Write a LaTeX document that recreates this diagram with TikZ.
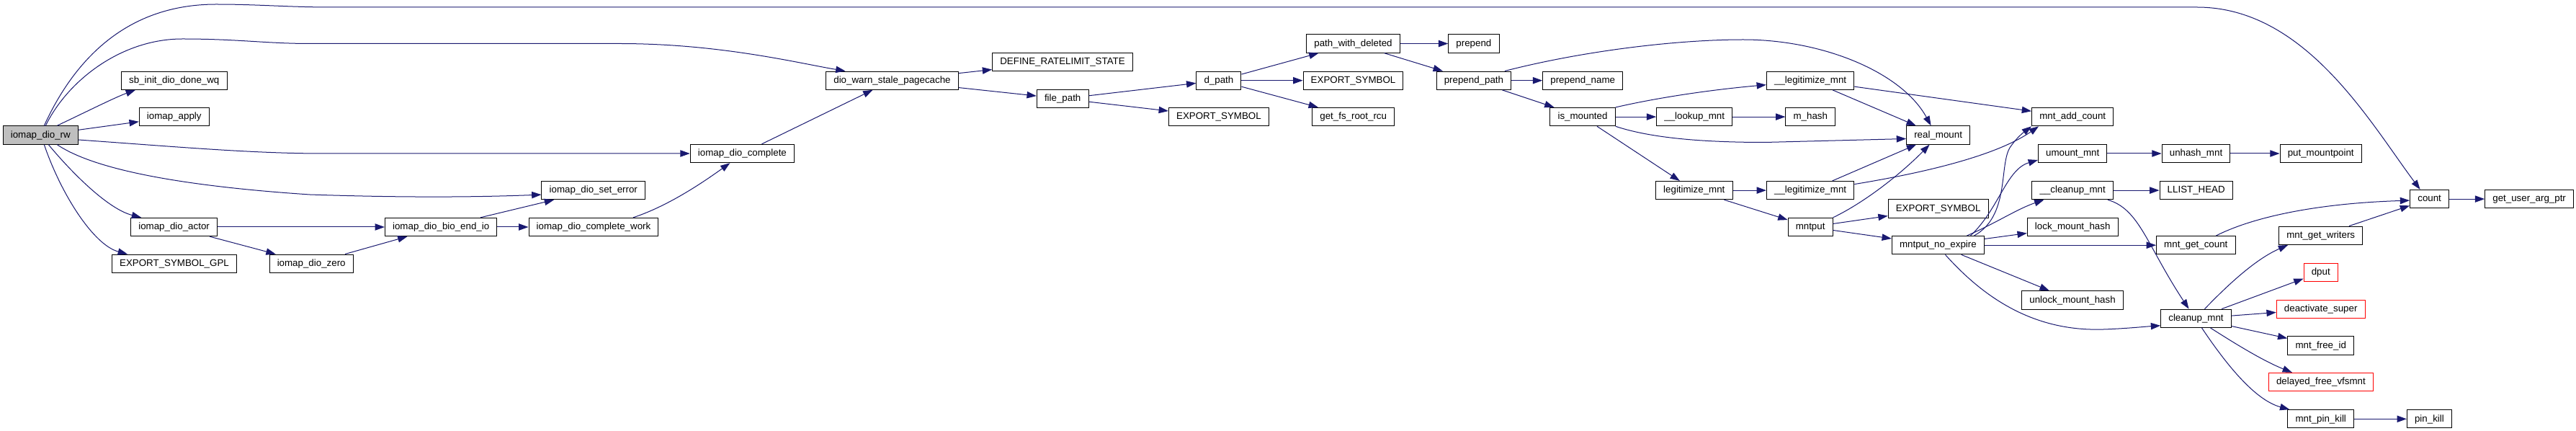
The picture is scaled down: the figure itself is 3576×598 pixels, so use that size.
\documentclass[tikz,border=0pt]{standalone}
\usepackage{fontspec}
\setmainfont{Liberation Sans}
\usetikzlibrary{arrows.meta,calc}
\definecolor{edgec}{HTML}{191970}
\definecolor{gfill}{HTML}{BFBFBF}
\begin{document}
\begin{tikzpicture}[x=0.75pt,y=-0.75pt,
 fn/.style={draw=black,fill=white,line width=0.75pt,rectangle,minimum height=19pt,inner xsep=8pt,inner ysep=0pt,text height=7.2pt,text depth=1.6pt,font=\fontsize{10}{12}\selectfont},
 root/.style={fn,fill=gfill},
 trunc/.style={fn,draw=red},
 e/.style={draw=edgec,line width=0.75pt,-{Triangle[length=10pt,width=7pt]}}]
\fill[white] (0,0) rectangle (3576,598);
\useasboundingbox (0,0) rectangle (3576,598);

\node[root] (rw) at (56.3,187.5) {iomap\_dio\_rw};
\node[fn] (sb) at (241.8,111.7) {sb\_init\_dio\_done\_wq};
\node[fn] (ap) at (241.8,162.1) {iomap\_apply};
\node[fn] (act) at (241.6,315) {iomap\_dio\_actor};
\node[fn] (gpl) at (242,365.7) {EXPORT\_SYMBOL\_GPL};
\node[fn] (zero) at (432.2,365.7) {iomap\_dio\_zero};
\node[fn] (bio) at (612.2,315) {iomap\_dio\_bio\_end\_io};
\node[fn] (se) at (823.8,264.1) {iomap\_dio\_set\_error};
\node[fn] (cw) at (824,315) {iomap\_dio\_complete\_work};
\node[fn] (cmp) at (1030.4,213) {iomap\_dio\_complete};
\node[fn] (dw) at (1238.5,111.7) {dio\_warn\_stale\_pagecache};
\node[fn] (def) at (1475,85.9) {DEFINE\_RATELIMIT\_STATE};
\node[fn] (fp) at (1475.2,137) {file\_path};
\node[fn] (dp) at (1691.9,111.7) {d\_path};
\node[fn] (es1) at (1691.9,162.1) {EXPORT\_SYMBOL};
\node[fn] (pwd) at (1878.5,60.5) {path\_with\_deleted};
\node[fn] (es2) at (1878.5,111.7) {EXPORT\_SYMBOL};
\node[fn] (gfr) at (1878.7,162.1) {get\_fs\_root\_rcu};
\node[fn] (pre) at (2045.9,60.5) {prepend};
\node[fn] (pp) at (2045.9,111.7) {prepend\_path};
\node[fn] (pn) at (2197.2,111.7) {prepend\_name};
\node[fn] (im) at (2197,162.1) {is\_mounted};
\node[fn] (lk) at (2352.2,162.1) {\_\_lookup\_mnt};
\node[fn] (lg) at (2351.8,264.1) {legitimize\_mnt};
\node[fn] (l1) at (2513.1,111.7) {\_\_legitimize\_mnt};
\node[fn] (mh) at (2513.3,162.1) {m\_hash};
\node[fn] (l2) at (2513.1,264.1) {\_\_legitimize\_mnt};
\node[fn] (mp) at (2513.1,315) {mntput};
\node[fn] (rm) at (2690.6,187.5) {real\_mount};
\node[fn] (es3) at (2690.6,289.5) {EXPORT\_SYMBOL};
\node[fn] (mne) at (2690.4,340.2) {mntput\_no\_expire};
\node[fn] (mac) at (2877.2,162.1) {mnt\_add\_count};
\node[fn] (um) at (2877.2,213) {umount\_mnt};
\node[fn] (cl) at (2877.2,264.1) {\_\_cleanup\_mnt};
\node[fn] (lmh) at (2877.2,315) {lock\_mount\_hash};
\node[fn] (umh) at (2877,416.4) {unlock\_mount\_hash};
\node[fn] (uh) at (3048.5,213) {unhash\_mnt};
\node[fn] (pm) at (3221.7,213) {put\_mountpoint};
\node[fn] (ll) at (3048.7,264.1) {LLIST\_HEAD};
\node[fn] (mgc) at (3048.3,340.2) {mnt\_get\_count};
\node[fn] (cm) at (3048.5,441.8) {cleanup\_mnt};
\node[fn] (cnt) at (3372.6,276.1) {count};
\node[fn] (gua) at (3511.1,276.1) {get\_user\_arg\_ptr};
\node[fn] (mgw) at (3221.7,326.8) {mnt\_get\_writers};
\node[trunc] (dput) at (3221.7,377.7) {dput};
\node[trunc] (ds) at (3221.7,428.8) {deactivate\_super};
\node[fn] (mfi) at (3221.7,479.5) {mnt\_free\_id};
\node[trunc] (dfv) at (3221.9,530) {delayed\_free\_vfsmnt};
\node[fn] (mpk) at (3221.7,581.3) {mnt\_pin\_kill};
\node[fn] (pk) at (3372.4,581.3) {pin\_kill};

% iomap_dio_rw
\draw[e] ($(rw.north)+(5,0)$) .. controls (100,90) and (170,6) .. (300,6) .. controls (360,6) and (400,10) .. (460,10) -- (3050,10) .. controls (3200,10) and (3290,170) .. ($(cnt.north)+(-13,0)$);
\draw[e] ($(rw.north)+(7,0)$) .. controls (95,110) and (170,54) .. (253,54) .. controls (330,54) and (370,60.5) .. (430,60.5) -- (860,60.5) .. controls (1000,60.5) and (1110,88) .. ($(dw.north)+(-65,0)$);
\draw[e] ($(rw.north)+(23,0)$) .. controls (120,155) and (160,135) .. ($(sb.south west)+(20,0)$);
\draw[e] (rw) -- (ap);
\draw[e] ($(rw.east)+(0,6.5)$) .. controls (250,204) and (350,213) .. (450,213) -- (cmp.west);
\draw[e] ($(rw.south)+(23,0)$) .. controls (130,235) and (250,258) .. (430,270) .. controls (550,274) and (650,274) .. ($(se.west)+(0,6)$);
\draw[e] ($(rw.south)+(11,0)$) .. controls (100,240) and (150,290) .. ($(act.north west)+(15,0)$);
\draw[e] ($(rw.south)+(5,0)$) .. controls (85,270) and (130,340) .. ($(gpl.north west)+(22,0)$);

% actor chain
\draw[e] (act) -- (bio);
\draw[e] (act) -- (zero);
\draw[e] (zero) -- (bio);
\draw[e] (bio) -- (se);
\draw[e] (bio) -- (cw);
\draw[e] ($(cw.north)+(55,0)$) .. controls (930,285) and (980,250) .. ($(cmp.south)+(-17,0)$);
\draw[e] (cmp) -- (dw);
\draw[e] (dw) -- (def);
\draw[e] (dw) -- (fp);
\draw[e] (fp) -- (dp);
\draw[e] (fp) -- (es1);
\draw[e] (dp) -- (pwd);
\draw[e] (dp) -- (es2);
\draw[e] (dp) -- (gfr);
\draw[e] (pwd) -- (pre);
\draw[e] (pwd) -- (pp);
\draw[e] (pp) -- (pn);
\draw[e] (pp) -- (im);
\draw[e] ($(pp.north)+(43,0)$) .. controls (2200,70) and (2330,55) .. (2420,55) .. controls (2530,55) and (2640,100) .. ($(rm.north)+(-10,0)$);
\draw[e] (im) -- (lk);
\draw[e] (im.north east) .. controls (2290,138) and (2360,126) .. ($(l1.west)+(0,6)$);
\draw[e] (im.south east) .. controls (2290,191) and (2360,197.5) .. (2450,197.5) -- ($(rm.west)+(0,5)$);
\draw[e] (im) -- (lg);
\draw[e] (lk) -- (mh);
\draw[e] (lg) -- (l2);
\draw[e] (lg) -- (mp);
\draw[e] (l1) -- (rm);
\draw[e] (l1) -- (mac);
\draw[e] (l2) -- (rm);
\draw[e] ($(l2.east)+(0,-8.5)$) .. controls (2700,235) and (2780,210) .. ($(mac.south west)+(10,0)$);
\draw[e] (mp.north east) .. controls (2590,280) and (2640,240) .. ($(rm.south)+(-12,0)$);
\draw[e] (mp) -- (es3);
\draw[e] (mp) -- (mne);

% mntput_no_expire
\draw[e] ($(mne.north)+(50,0)$) .. controls (2790,300) and (2775,230) .. (2790,205) .. controls (2800,190) and (2810,183) .. (mac.south west);
\draw[e] ($(mne.north)+(45,0)$) .. controls (2775,290) and (2785,235) .. ($(um.west)+(0,9)$);
\draw[e] ($(mne.north)+(40,0)$) .. controls (2770,310) and (2800,290) .. ($(cl.south west)+(17,0)$);
\draw[e] (mne) -- (lmh);
\draw[e] (mne) -- (mgc);
\draw[e] (mne) -- (umh);
\draw[e] ($(mne.south)+(10,0)$) .. controls (2760,420) and (2830,460) .. (2920,457) .. controls (2950,456) and (2980,453) .. ($(cm.west)+(0,10)$);

\draw[e] (cl) -- (ll);
\draw[e] ($(cl.south east)+(-8,0)$) .. controls (2970,290) and (2980,340) .. ($(cm.north)+(-10,0)$);
\draw[e] (um) -- (uh);
\draw[e] (uh) -- (pm);
\draw[e] ($(mgc.north)+(28,0)$) .. controls (3130,300) and (3220,282) .. ($(cnt.west)+(0,2)$);
\draw[e] (mgw) -- (cnt);
\draw[e] (cnt) -- (gua);

% cleanup_mnt
\draw[e] ($(cm.north)+(12,0)$) .. controls (3090,398) and (3130,360) .. ($(mgw.south west)+(13,0)$);
\draw[e] (cm) -- (dput);
\draw[e] (cm) -- (ds);
\draw[e] (cm) -- (mfi);
\draw[e] ($(cm.south)+(20,0)$) .. controls (3100,475) and (3140,500) .. ($(dfv.north)+(-40,0)$);
\draw[e] ($(cm.south)+(8,0)$) .. controls (3090,505) and (3130,555) .. ($(mpk.north west)+(3,0)$);
\draw[e] (mpk) -- (pk);
\end{tikzpicture}
\end{document}
